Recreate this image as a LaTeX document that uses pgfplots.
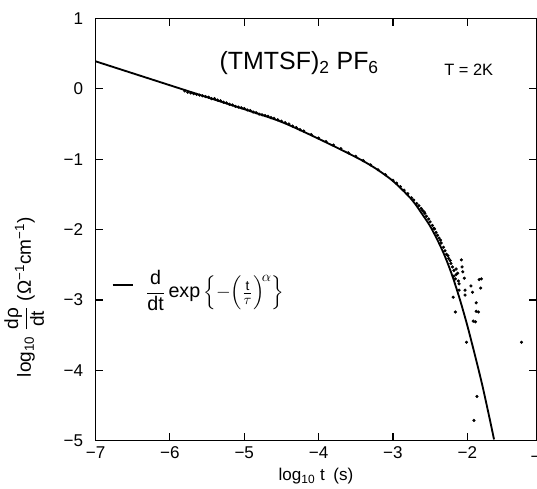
\documentclass[border=0pt]{standalone}
\usepackage{fontspec}
\setmainfont{Liberation Sans}
\usepackage{amsmath}
\usepackage{pgfplots}
\pgfplotsset{compat=1.18}

\begin{document}
\begin{tikzpicture}
\begin{axis}[
    scale only axis,
    width=336pt, height=322pt,
    xmin=-7, xmax=-1.07,
    ymin=-5, ymax=1,
    xtick={-7,-6,-5,-4,-3,-2},
    xticklabels={−7,−6,−5,−4,−3,−2},
    ytick={-5,-4,-3,-2,-1,0,1},
    yticklabels={−5,−4,−3,−2,−1,0,1},
    tick align=inside,
    major tick length=6pt,
    tick style={line width=0.9pt, black},
    axis line style={line width=0.9pt},
    ticklabel style={font=\fontsize{13}{15}\selectfont},
    xticklabel style={yshift=-1pt},
    yticklabel style={xshift=-6pt},
    xlabel={log\textsubscript{10} t\enspace(s)},
    ylabel={log\textsubscript{10} $\dfrac{\text{dρ}}{\text{dt}}$ (Ω\textsuperscript{−1}cm\textsuperscript{−1})},
    label style={font=\fontsize{13}{15}\selectfont},
    xlabel style={yshift=0pt},
    ylabel style={font=\fontsize{14.5}{17}\selectfont, at={(ticklabel cs:0.34)}, yshift=8pt},
    legend style={at={(axis cs:-6.84,-2.79)}, anchor=west, draw=none, fill=none,
        font=\fontsize{15}{18}\selectfont, legend cell align=left},
    legend image code/.code={\draw[line width=1.4pt] (0cm,0cm) -- (0.55cm,0cm);},
]
% measured points
\addplot[only marks, mark=*, mark size=1pt, black, forget plot] coordinates {
(-5.80,-0.03) (-5.76,-0.05) (-5.72,-0.06) (-5.68,-0.07) (-5.64,-0.08) (-5.60,-0.09)
(-5.56,-0.10) (-5.52,-0.11) (-5.48,-0.12) (-5.44,-0.14) (-5.40,-0.14) (-5.36,-0.16)
(-5.32,-0.17) (-5.28,-0.19) (-5.24,-0.20) (-5.20,-0.22) (-5.16,-0.23) (-5.12,-0.25)
(-5.08,-0.26) (-5.04,-0.27) (-5.00,-0.28) (-4.96,-0.30) (-4.92,-0.31) (-4.88,-0.33)
(-4.84,-0.34) (-4.80,-0.36) (-4.76,-0.37) (-4.72,-0.38) (-4.68,-0.39) (-4.64,-0.41)
(-4.60,-0.42) (-4.55,-0.44) (-4.50,-0.46) (-4.45,-0.48) (-4.40,-0.50) (-4.35,-0.53)
(-4.30,-0.55) (-4.25,-0.58) (-4.20,-0.60) (-4.10,-0.65) (-4.00,-0.70) (-3.90,-0.75)
(-3.80,-0.80) (-3.70,-0.85) (-3.60,-0.91) (-3.50,-0.96) (-3.40,-1.02) (-3.30,-1.08)
(-3.20,-1.15) (-3.10,-1.22) (-3.00,-1.30) (-2.95,-1.34) (-2.90,-1.39) (-2.85,-1.44)
(-2.80,-1.49) (-2.75,-1.55) (-2.72,-1.58) (-2.68,-1.63) (-2.65,-1.66) (-2.62,-1.70)
(-2.60,-1.73) (-2.57,-1.77) (-2.55,-1.81) (-2.52,-1.85) (-2.50,-1.89) (-2.47,-1.94)
(-2.45,-1.98) (-2.42,-2.04) (-2.40,-2.08) (-2.38,-2.12) (-2.35,-2.19) (-2.32,-2.25)
(-2.30,-2.30) (-2.28,-2.35) (-2.25,-2.41) (-2.22,-2.48) (-2.20,-2.53) (-2.18,-2.58)
(-2.15,-2.64) (-2.26,-2.37) (-2.23,-2.44) (-2.36,-2.15) (-2.44,-1.99) (-2.58,-1.75)
(-2.08,-2.43) (-2.07,-2.53) (-2.15,-2.56) (-2.04,-2.69) (-1.84,-2.71) (-1.81,-2.70)
(-1.95,-2.80) (-1.82,-2.83) (-1.93,-2.89) (-2.03,-2.93) (-2.19,-2.96) (-1.88,-3.04)
(-2.16,-3.17) (-1.88,-3.16) (-1.85,-3.17) (-1.92,-3.30) (-1.89,-3.31) (-2.01,-3.60)
(-1.27,-3.60) (-1.87,-4.37) (-1.91,-4.71) (-2.12,-2.73) (-2.11,-2.77) (-2.16,-2.70)
(-2.03,-2.86) (-2.11,-2.86) (-2.13,-2.62) (-2.06,-2.60) (-2.18,-2.66)
};
% fitted curve
\addplot[black, line width=1.4pt, smooth] coordinates {
(-7.0,0.39) (-6.5,0.22) (-6.0,0.05) (-5.5,-0.12) (-5.0,-0.29) (-4.5,-0.47)
(-4.0,-0.71) (-3.5,-0.97) (-3.25,-1.12) (-3.0,-1.31) (-2.75,-1.57) (-2.6,-1.79)
(-2.5,-1.95) (-2.4,-2.15) (-2.3,-2.38) (-2.2,-2.66) (-2.1,-2.99) (-2.0,-3.36)
(-1.9,-3.77) (-1.8,-4.20) (-1.7,-4.68) (-1.64,-4.98)
};
\addlegendentry{\hspace*{7pt}$\displaystyle\frac{\text{d}}{\text{dt}}\,\text{exp}\left\{-\Bigl(\tfrac{\text{t}}{\tau}\Bigr)^{\!\alpha}\right\}$}
\node[font=\fontsize{19}{22}\selectfont] at (axis cs:-4.26,0.37) {(TMTSF)\textsubscript{2} PF\textsubscript{6}};
\node[font=\fontsize{12.5}{15}\selectfont] at (axis cs:-1.98,0.27) {T = 2K};
\end{axis}
% tick label at -1 lies just past the cropped right edge
\node[overlay, font=\fontsize{13}{15}\selectfont, anchor=north] at ([xshift=3pt, yshift=-4pt]current axis.south east) {−1};
\path ([yshift=14pt]current axis.north);
\end{tikzpicture}
\end{document}
